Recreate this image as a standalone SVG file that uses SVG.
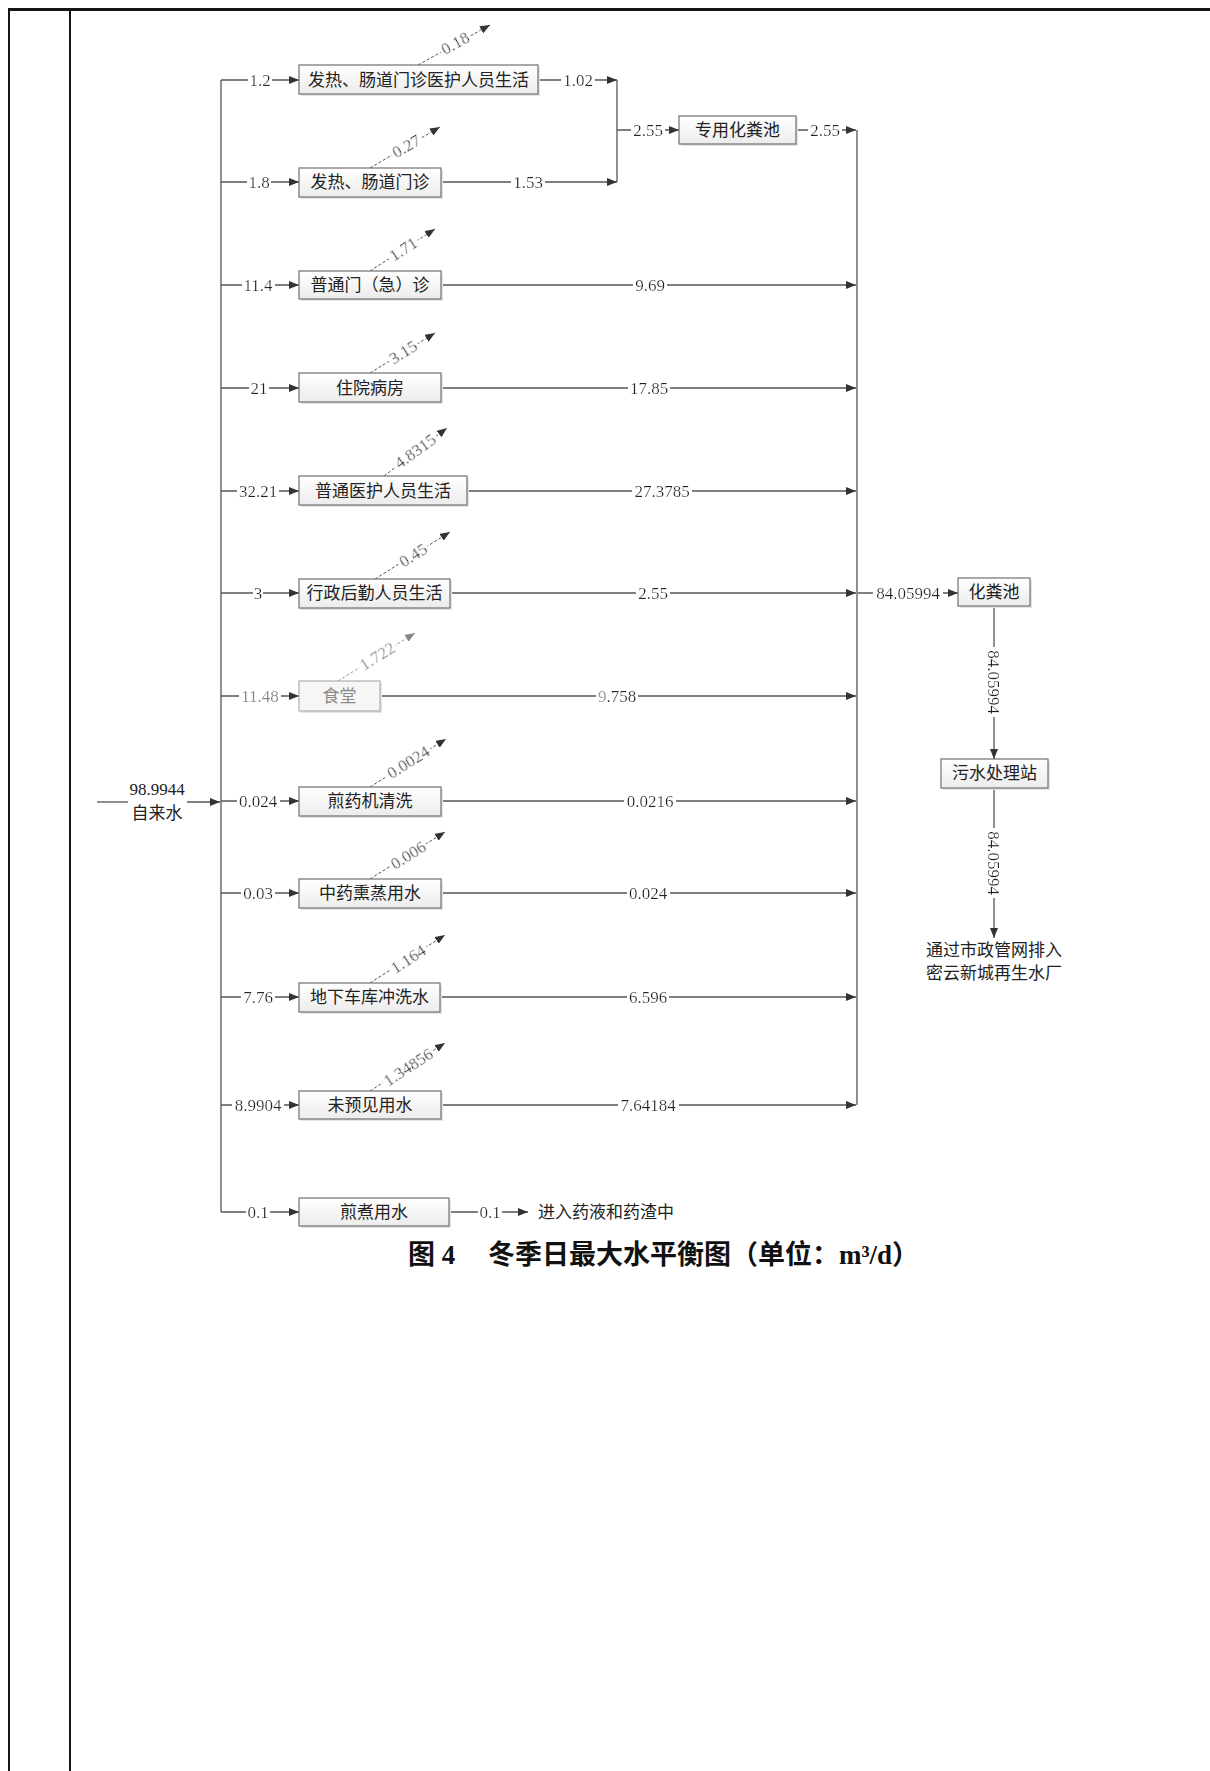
<svg xmlns="http://www.w3.org/2000/svg" width="1210" height="1771" viewBox="0 0 1210 1771">
<defs>
<marker id="ah" viewBox="0 0 10 8" refX="10" refY="4" markerWidth="10" markerHeight="8" orient="auto" markerUnits="userSpaceOnUse"><path d="M0,0 L10,4 L0,8 z" fill="#333"/></marker>
<marker id="ahf" viewBox="0 0 10 8" refX="10" refY="4" markerWidth="10" markerHeight="8" orient="auto" markerUnits="userSpaceOnUse"><path d="M0,0 L10,4 L0,8 z" fill="#888"/></marker>
<linearGradient id="g" x1="0" y1="0" x2="0" y2="1"><stop offset="0" stop-color="#ffffff"/><stop offset="1" stop-color="#ececec"/></linearGradient>
<filter id="bg" x="-0.04" y="0.08" width="1.08" height="0.84"><feFlood flood-color="#ffffff"/><feComposite in="SourceGraphic" operator="over"/></filter>
</defs>
<style>
.ln{stroke:#555;stroke-width:1.3;fill:none}
.ds{stroke:#555;stroke-width:1;stroke-dasharray:3 2;fill:none}
.dsf{stroke:#999;stroke-width:1;stroke-dasharray:3 2;fill:none}
.num{font-family:"Liberation Serif","Noto Sans CJK SC",serif;font-size:17px;fill:#222;text-anchor:middle;dominant-baseline:central;filter:url(#bg)}
.fad{fill:#8a8a8a}
.box{fill:url(#g);stroke:#707070;stroke-width:1.2}
.boxf{fill:#f6f6f6;stroke:#b0b0b0;stroke-width:1.2}
.sh{fill:#e4e4e4}
.bt{font-family:"Liberation Serif","Noto Sans CJK SC",serif;font-size:17px;fill:#222;text-anchor:middle;dominant-baseline:central}
.txt{font-family:"Liberation Serif","Noto Sans CJK SC",serif;font-size:17px;fill:#222;dominant-baseline:central}
.cap{font-family:"Liberation Serif","Noto Sans CJK SC",serif;font-size:27px;font-weight:bold;fill:#111;dominant-baseline:central}
.frame{stroke:#151515;fill:none}
</style>

<g id="frame">
<line class="frame" x1="8" y1="9.5" x2="1210" y2="9.5" stroke-width="3"/>
<line class="frame" x1="9" y1="8" x2="9" y2="1771" stroke-width="2"/>
<line class="frame" x1="70" y1="9" x2="70" y2="1771" stroke-width="2"/>
</g>

<g id="connectors">
<path class="ln" d="M97,802 H128"/>
<path class="ln" d="M187,802 H220" marker-end="url(#ah)"/>
<path class="ln" d="M221,80 V1212"/>
<path class="ln" d="M221,80 H299" marker-end="url(#ah)"/>
<path class="ln" d="M221,182 H299" marker-end="url(#ah)"/>
<path class="ln" d="M221,285 H299" marker-end="url(#ah)"/>
<path class="ln" d="M221,388 H299" marker-end="url(#ah)"/>
<path class="ln" d="M221,491 H299" marker-end="url(#ah)"/>
<path class="ln" d="M221,593 H299" marker-end="url(#ah)"/>
<path class="ln" d="M221,696 H299" marker-end="url(#ah)"/>
<path class="ln" d="M221,801 H299" marker-end="url(#ah)"/>
<path class="ln" d="M221,893 H299" marker-end="url(#ah)"/>
<path class="ln" d="M221,997 H299" marker-end="url(#ah)"/>
<path class="ln" d="M221,1105 H299" marker-end="url(#ah)"/>
<path class="ln" d="M221,1212 H299" marker-end="url(#ah)"/>
<path class="ln" d="M538,80 H617" marker-end="url(#ah)"/>
<path class="ln" d="M441,182 H617" marker-end="url(#ah)"/>
<path class="ln" d="M617,80 V182"/>
<path class="ln" d="M617,130 H679" marker-end="url(#ah)"/>
<path class="ln" d="M796,130 H856" marker-end="url(#ah)"/>
<path class="ln" d="M857,130 V1105"/>
<path class="ln" d="M441,285 H856" marker-end="url(#ah)"/>
<path class="ln" d="M441,388 H856" marker-end="url(#ah)"/>
<path class="ln" d="M467,491 H856" marker-end="url(#ah)"/>
<path class="ln" d="M450,593 H856" marker-end="url(#ah)"/>
<path class="ln" d="M380,696 H856" marker-end="url(#ah)"/>
<path class="ln" d="M441,801 H856" marker-end="url(#ah)"/>
<path class="ln" d="M441,893 H856" marker-end="url(#ah)"/>
<path class="ln" d="M440,997 H856" marker-end="url(#ah)"/>
<path class="ln" d="M441,1105 H856" marker-end="url(#ah)"/>
<path class="ln" d="M858,593 H958" marker-end="url(#ah)"/>
<path class="ln" d="M994,606 V759" marker-end="url(#ah)"/>
<path class="ln" d="M994,788 V938" marker-end="url(#ah)"/>
<path class="ln" d="M449,1212 H528" marker-end="url(#ah)"/>
<path class="ds" d="M418,65 L490,25" marker-end="url(#ah)"/>
<path class="ds" d="M370,168 L440,127" marker-end="url(#ah)"/>
<path class="ds" d="M370,271 L435,229" marker-end="url(#ah)"/>
<path class="ds" d="M370,373 L435,333" marker-end="url(#ah)"/>
<path class="ds" d="M384,476 L447,428" marker-end="url(#ah)"/>
<path class="ds" d="M375,579 L450,532" marker-end="url(#ah)"/>
<path class="dsf" d="M338,681 L415,633" marker-end="url(#ahf)"/>
<path class="ds" d="M370,787 L446,739" marker-end="url(#ah)"/>
<path class="ds" d="M370,879 L445,832" marker-end="url(#ah)"/>
<path class="ds" d="M370,983 L445,935" marker-end="url(#ah)"/>
<path class="ds" d="M370,1091 L445,1043" marker-end="url(#ah)"/>

<text class="num" x="260" y="80">1.2</text>
<text class="num" x="259" y="182">1.8</text>
<text class="num" x="258" y="285">11.4</text>
<text class="num" x="259" y="388">21</text>
<text class="num" x="258" y="491">32.21</text>
<text class="num" x="258" y="593">3</text>
<text class="num fad" x="260" y="696">11.48</text>
<text class="num" x="258" y="801">0.024</text>
<text class="num" x="258" y="893">0.03</text>
<text class="num" x="258" y="997">7.76</text>
<text class="num" x="258" y="1105">8.9904</text>
<text class="num" x="258" y="1212">0.1</text>

<text class="num" x="578" y="80">1.02</text>
<text class="num" x="528" y="182">1.53</text>
<text class="num" x="648" y="130">2.55</text>
<text class="num" x="825" y="130">2.55</text>

<text class="num" x="650" y="285">9.69</text>
<text class="num" x="649" y="388">17.85</text>
<text class="num" x="662" y="491">27.3785</text>
<text class="num" x="653" y="593">2.55</text>
<text class="num" x="617" y="696"><tspan fill="#999">9</tspan>.758</text>
<text class="num" x="650" y="801">0.0216</text>
<text class="num" x="648" y="893">0.024</text>
<text class="num" x="648" y="997">6.596</text>
<text class="num" x="648" y="1105">7.64184</text>

<text class="num" x="908" y="593">84.05994</text>
<text class="num" transform="translate(994,682) rotate(90)" x="0" y="0">84.05994</text>
<text class="num" transform="translate(994,863) rotate(90)" x="0" y="0">84.05994</text>
<text class="num" x="490" y="1212">0.1</text>

<text class="num" transform="translate(455,43) rotate(-29)">0.18</text>
<text class="num" transform="translate(406,146) rotate(-30)">0.27</text>
<text class="num" transform="translate(403,249) rotate(-33)">1.71</text>
<text class="num" transform="translate(403,352) rotate(-32)">3.15</text>
<text class="num" transform="translate(415,451) rotate(-36)">4.8315</text>
<text class="num" transform="translate(413,555) rotate(-32)">0.45</text>
<text class="num fad" transform="translate(377,656) rotate(-32)">1.722</text>
<text class="num" transform="translate(408,762) rotate(-32)">0.0024</text>
<text class="num" transform="translate(408,855) rotate(-32)">0.006</text>
<text class="num" transform="translate(408,959) rotate(-33)">1.164</text>
<text class="num" transform="translate(408,1067) rotate(-33)">1.34856</text>
</g>

<g id="n-source">
<text class="bt" x="157" y="789">98.9944</text>
<text class="bt" x="157" y="813">自来水</text>
</g>

<g id="n-b1"><rect class="sh" x="301" y="67" width="239" height="29"/><rect class="box" x="299" y="65" width="239" height="29"/><text class="bt" x="418.5" y="80">发热、肠道门诊医护人员生活</text></g>
<g id="n-b2"><rect class="sh" x="301" y="170" width="142" height="29"/><rect class="box" x="299" y="168" width="142" height="29"/><text class="bt" x="370" y="182">发热、肠道门诊</text></g>
<g id="n-b3"><rect class="sh" x="301" y="273" width="142" height="28"/><rect class="box" x="299" y="271" width="142" height="28"/><text class="bt" x="370" y="285">普通门（急）诊</text></g>
<g id="n-b4"><rect class="sh" x="301" y="375" width="142" height="29"/><rect class="box" x="299" y="373" width="142" height="29"/><text class="bt" x="370" y="388">住院病房</text></g>
<g id="n-b5"><rect class="sh" x="301" y="478" width="168" height="29"/><rect class="box" x="299" y="476" width="168" height="29"/><text class="bt" x="383" y="491">普通医护人员生活</text></g>
<g id="n-b6"><rect class="sh" x="301" y="581" width="151" height="29"/><rect class="box" x="299" y="579" width="151" height="29"/><text class="bt" x="374.5" y="593">行政后勤人员生活</text></g>
<g id="n-b7"><rect class="sh" x="301" y="683" width="81" height="30"/><rect class="boxf" x="299" y="681" width="81" height="30"/><text class="bt" x="339.5" y="696" style="fill:#8a8a8a">食堂</text></g>
<g id="n-b8"><rect class="sh" x="301" y="789" width="142" height="29"/><rect class="box" x="299" y="787" width="142" height="29"/><text class="bt" x="370" y="801">煎药机清洗</text></g>
<g id="n-b9"><rect class="sh" x="301" y="881" width="142" height="29"/><rect class="box" x="299" y="879" width="142" height="29"/><text class="bt" x="370" y="893">中药熏蒸用水</text></g>
<g id="n-b10"><rect class="sh" x="301" y="985" width="141" height="29"/><rect class="box" x="299" y="983" width="141" height="29"/><text class="bt" x="369.5" y="997">地下车库冲洗水</text></g>
<g id="n-b11"><rect class="sh" x="301" y="1093" width="142" height="28"/><rect class="box" x="299" y="1091" width="142" height="28"/><text class="bt" x="370" y="1105">未预见用水</text></g>
<g id="n-b12"><rect class="sh" x="301" y="1200" width="150" height="28"/><rect class="box" x="299" y="1198" width="150" height="28"/><text class="bt" x="374" y="1212">煎煮用水</text></g>
<g id="n-s1"><rect class="sh" x="681" y="118" width="117" height="28"/><rect class="box" x="679" y="116" width="117" height="28"/><text class="bt" x="737.5" y="130">专用化粪池</text></g>
<g id="n-s2"><rect class="sh" x="960" y="580" width="72" height="28"/><rect class="box" x="958" y="578" width="72" height="28"/><text class="bt" x="994" y="592">化粪池</text></g>
<g id="n-s3"><rect class="sh" x="943" y="761" width="107" height="29"/><rect class="box" x="941" y="759" width="107" height="29"/><text class="bt" x="994.5" y="773">污水处理站</text></g>

<g id="n-out1"><text class="txt" x="538" y="1212">进入药液和药渣中</text></g>
<g id="n-out2">
<text class="bt" x="994" y="950">通过市政管网排入</text>
<text class="bt" x="994" y="973">密云新城再生水厂</text>
</g>

<g id="caption">
<text class="cap" x="408" y="1255">图 4</text>
<text class="cap" x="488" y="1255">冬季日最大水平衡图（单位：m³/d）</text>
</g>
</svg>
